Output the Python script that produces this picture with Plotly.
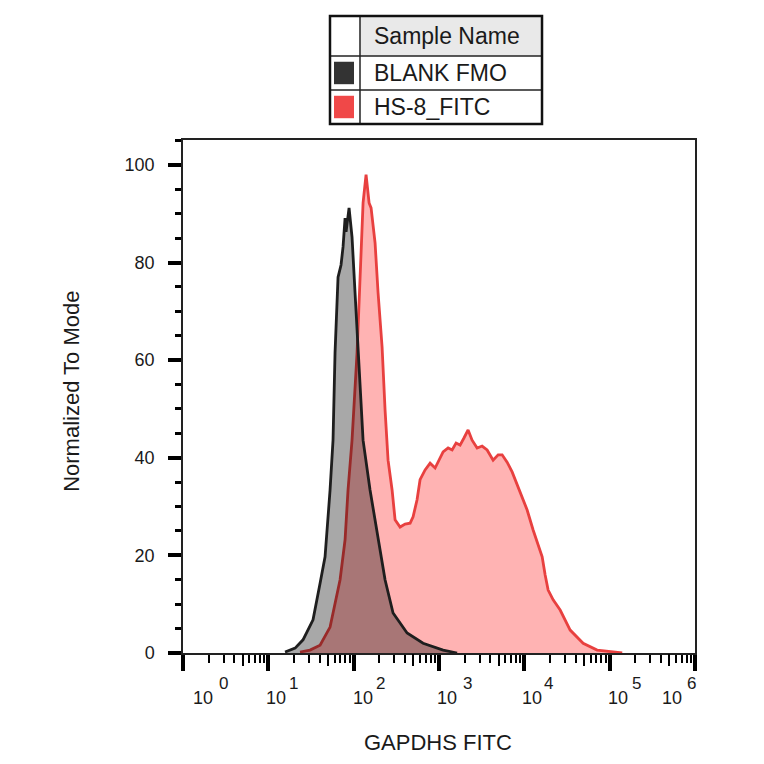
# Flow cytometry overlay histogram (GAPDHS FITC) redone in Plotly
import plotly.graph_objects as go

# ---- data ----
sample_names = ['BLANK FMO', 'HS-8_FITC']

# BLANK FMO histogram (FITC intensity, % of mode)
blank_x = [15.7, 20.6, 25.5, 33.4, 40.4, 46.2, 52.9, 57.3, 60.5, 65.6, 71.1, 75.1, 79.3, 81.5,
           88.3, 95.7, 103.8, 112.6, 128.9, 155.6, 188.0, 233.3, 289.6, 422.7, 651, 1117, 1630]
blank_y = [0.2, 1.0, 2.7, 6.8, 14.3, 19.7, 33.4, 43.6, 61.5, 77.0, 79.5, 83.2, 89.1, 86.3,
           91.2, 85.2, 73.8, 62.7, 43.6, 33.4, 24.6, 15.0, 8.2, 4.1, 2.0, 0.6, 0.0]

# HS-8_FITC histogram
hs8_x = [23.5, 30.8, 40.4, 52.9, 69.3, 79.3, 85.9, 95.7, 109.6, 122.2, 128.9, 139.7, 151.6, 160,
         178.2, 193.2, 215.3, 233.3, 253, 282, 305.6, 349.9, 400.6, 458.6, 497, 553, 600, 687,
         787, 900, 1117, 1279, 1425, 1585, 1766, 1968, 2193, 2443, 2798, 3200, 3664, 4306,
         4932, 5494, 6285, 7193, 8929, 10790, 12680, 14520, 16180, 17540, 19010, 21770,
         26290, 34440, 48880, 71340, 109900, 140300]
hs8_y = [0.2, 0.6, 1.6, 5.3, 15.0, 23.2, 33.4, 43.6, 61.5, 80.5, 92.2, 98.0, 92.2, 91.2,
         84.0, 73.8, 62.7, 49.8, 39.5, 33.4, 27.3, 25.8, 26.4, 26.6, 27.9, 31.4, 35.5, 37.5,
         38.9, 37.9, 41.2, 42.0, 41.6, 43.0, 42.6, 44.1, 45.7, 43.6, 42.0, 42.4, 41.6, 39.5,
         40.6, 40.6, 39.1, 37.1, 33.0, 29.3, 25.2, 22.1, 19.7, 16.0, 12.9, 10.9,
         8.8, 4.7, 2.0, 0.6, 0.2, 0.0]

y_ticks = [0, 20, 40, 60, 80, 100]
decades = [0, 1, 2, 3, 4, 5, 6]

# ---- styling ----
FONT = 'Liberation Sans, Arial, sans-serif'
TXT = '#1a1a1a'
red_line = '#e8403f'
red_fill = '#ffb3b3'
gray_line = '#1e1e1e'
gray_fill = 'rgba(0,0,0,0.34)'

fig = go.Figure()

# red first, gray (translucent black) over it so the overlap darkens
fig.add_trace(go.Scatter(x=hs8_x, y=hs8_y, name=sample_names[1], mode='lines',
                         fill='tozeroy', fillcolor=red_fill,
                         line=dict(color=red_line, width=2.8)))
fig.add_trace(go.Scatter(x=blank_x, y=blank_y, name=sample_names[0], mode='lines',
                         fill='tozeroy', fillcolor=gray_fill,
                         line=dict(color=gray_line, width=2.8)))

major_x = [10 ** d for d in decades]
minor_x = [m * 10 ** d for d in decades[:-1] for m in range(2, 10)]
half_x = [5 * 10 ** d for d in decades[:-1]]

# invisible trace on a second x axis, only there for the medium 5x ticks
fig.add_trace(go.Scatter(x=[1], y=[0], xaxis='x2', mode='markers',
                         marker=dict(opacity=0), showlegend=False, hoverinfo='skip'))

# ---- tick labels on x (FlowJo style, sitting right of the ticks) ----
ten_pos = [0.234, 1.084, 2.11, 3.095, 4.09, 5.10, 5.73]
exp_pos = [0.469, 1.30, 2.31, 3.33, 4.28, 5.32, 5.96]
annotations = []
for i, d in enumerate(decades):
    annotations.append(dict(x=ten_pos[i], y=-0.0877, xref='x', yref='paper', text='10',
                            showarrow=False, xanchor='center', yanchor='middle',
                            font=dict(family=FONT, size=18, color=TXT)))
    annotations.append(dict(x=exp_pos[i], y=-0.0604, xref='x', yref='paper', text=str(d),
                            showarrow=False, xanchor='center', yanchor='middle',
                            font=dict(family=FONT, size=17, color=TXT)))

# axis titles
annotations.append(dict(x=0.498, y=-0.1735, xref='paper', yref='paper', text='GAPDHS FITC',
                        showarrow=False, xanchor='center', yanchor='middle',
                        font=dict(family=FONT, size=22, color=TXT)))
annotations.append(dict(x=-0.2168, y=0.511, xref='paper', yref='paper', text='Normalized To Mode',
                        showarrow=False, textangle=-90, xanchor='center', yanchor='middle',
                        font=dict(family=FONT, size=22, color=TXT)))

# ---- legend drawn as a little table ----
tx0, tx1, tx2 = 0.2871, 0.3457, 0.7012
ty = [1.2417, 1.1638, 1.0975, 1.0312]
shapes = [
    dict(type='rect', xref='paper', yref='paper', x0=tx1, x1=tx2, y0=ty[1], y1=ty[0],
         fillcolor='#e9e9e9', line=dict(width=0)),
    dict(type='line', xref='paper', yref='paper', x0=tx0, x1=tx2, y0=ty[1], y1=ty[1],
         line=dict(color='#222', width=1.5)),
    dict(type='line', xref='paper', yref='paper', x0=tx0, x1=tx2, y0=ty[2], y1=ty[2],
         line=dict(color='#222', width=1.5)),
    dict(type='line', xref='paper', yref='paper', x0=tx1, x1=tx1, y0=ty[3], y1=ty[0],
         line=dict(color='#222', width=1.5)),
    dict(type='rect', xref='paper', yref='paper', x0=tx0, x1=tx2, y0=ty[3], y1=ty[0],
         line=dict(color='#111', width=2.5)),
]
swatch_colors = ['#333333', '#f04848']
for i, name in enumerate(sample_names):
    ytop, ybot = ty[i + 1], ty[i + 2]
    pad = (ytop - ybot) * 0.17
    shapes.append(dict(type='rect', xref='paper', yref='paper',
                       x0=tx0 + 0.0078, x1=tx1 - 0.0117, y0=ybot + pad, y1=ytop - pad,
                       fillcolor=swatch_colors[i], line=dict(width=0)))
    annotations.append(dict(x=0.3691, y=(ytop + ybot) / 2, xref='paper', yref='paper',
                            text=name, showarrow=False, xanchor='left', yanchor='middle',
                            font=dict(family=FONT, size=23, color=TXT)))
annotations.append(dict(x=0.3691, y=(ty[0] + ty[1]) / 2, xref='paper', yref='paper',
                        text='Sample Name', showarrow=False, xanchor='left', yanchor='middle',
                        font=dict(family=FONT, size=23, color=TXT)))

# page body adds 8px, so margins are pulled in by that much
fig.update_layout(
    width=764, height=764,
    margin=dict(l=175, r=77, t=132, b=119, autoexpand=False),
    paper_bgcolor='white', plot_bgcolor='white',
    showlegend=False,
    font=dict(family=FONT, size=18, color=TXT),
    xaxis=dict(
        type='log', range=[0, 6],
        showgrid=False, zeroline=False,
        showline=True, linecolor='#222', linewidth=1.5, mirror=True,
        tickvals=major_x, ticks='outside', ticklen=16, tickwidth=3.5, tickcolor='black',
        showticklabels=False,
        minor=dict(tickvals=minor_x, ticks='outside', ticklen=8, tickwidth=2, tickcolor='black'),
    ),
    xaxis2=dict(
        type='log', range=[0, 6], overlaying='x', anchor='y', side='bottom',
        showgrid=False, zeroline=False, showline=False,
        tickvals=half_x, ticks='outside', ticklen=12, tickwidth=2, tickcolor='black',
        showticklabels=False,
    ),
    yaxis=dict(
        range=[0, 105.1],
        showgrid=False, zeroline=False,
        showline=True, linecolor='#222', linewidth=1.5, mirror=True,
        tickvals=y_ticks, ticks='outside', ticklen=13, tickwidth=3.5, tickcolor='black',
        ticklabelstandoff=10, tickfont=dict(family=FONT, size=18, color=TXT),
        minor=dict(dtick=5, ticks='outside', ticklen=6, tickwidth=2.5, tickcolor='black'),
    ),
    shapes=shapes,
    annotations=annotations,
)

fig.write_html('out.html')
